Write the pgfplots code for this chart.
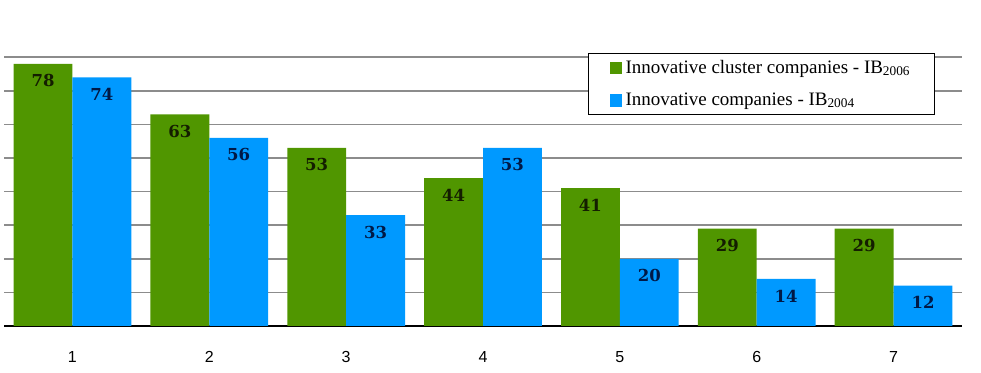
\documentclass[border=0pt]{standalone}
\usepackage{fontspec}
\setmainfont{Liberation Serif}
\newfontfamily\arialf{Liberation Sans}
\newfontfamily\labf{DejaVu Serif}
\usepackage{pgfplots}
\pgfplotsset{compat=1.18}
\definecolor{cgreen}{RGB}{80,150,0}
\definecolor{cblue}{RGB}{0,153,255}
\definecolor{cgrid}{RGB}{140,140,140}
\begin{document}
\begin{tikzpicture}
\begin{axis}[name=ax, at={(0,0)}, anchor=south west,
  scale only axis, width=479pt, height=163pt,
  xmin=0.5, xmax=7.5, ymin=0, ymax=97,
  ybar=0pt, bar width=0.43,
  axis lines*=left,
  y axis line style={draw=none},
  x axis line style={black, line width=0.8pt},
  ytick={10,20,...,80}, yticklabels={}, ytick style={draw=none},
  ymajorgrids, major grid style={cgrid, line width=0.8pt},
  xtick={1,...,7}, xticklabels={1,2,3,4,5,6,7}, xtick style={draw=none},
  xticklabel style={font=\arialf\fontsize{8}{9}\selectfont, yshift=-5pt},
  extra x ticks={0.5,1.5,2.5,3.5,4.5,5.5,6.5,7.5}, extra x tick labels={},
  extra x tick style={tick align=outside, major tick length=3pt, tick style={draw=black, line width=0.8pt}},
  legend style={at={(rel axis cs:0.6095,0.837)}, anchor=north west, draw=black, line width=0.6pt, fill=white,
    font=\fontsize{9.5}{11}\selectfont, inner xsep=10.5pt, inner ysep=1.5pt, row sep=5pt,
    nodes={inner sep=1.6pt}},
  legend cell align=left,
  nodes near coords={\labf\bfseries\pgfmathprintnumber[assume math mode=true]{\pgfplotspointmeta}},
]
\addplot[fill=cgreen, draw=none, bar shift=-0.215,
  legend image code/.code={\fill[cgreen] (0pt,-3.2pt) rectangle (6.4pt,3.2pt);},
  every node near coord/.append style={anchor=center, yshift=-8.5pt, font=\fontsize{8.25}{9}\selectfont, text={rgb,255:red,20;green,30;blue,0}}]
  coordinates {(1,78) (2,63) (3,53) (4,44) (5,41) (6,29) (7,29)};
\addlegendentry{Innovative cluster companies - IB\textsubscript{2006}}
\addplot[fill=cblue, draw=none, bar shift=0.215,
  legend image code/.code={\fill[cblue] (0pt,-3.2pt) rectangle (6.4pt,3.2pt);},
  every node near coord/.append style={anchor=center, yshift=-8.5pt, font=\fontsize{8.25}{9}\selectfont, text={rgb,255:red,0;green,25;blue,70}}]
  coordinates {(1,74) (2,56) (3,33) (4,53) (5,20) (6,14) (7,12)};
\addlegendentry{Innovative companies - IB\textsubscript{2004}}
\end{axis}
\pgfresetboundingbox
\path[use as bounding box] ([shift={(-2pt,-23.5pt)}]ax.south west) rectangle ([shift={(9.5pt,0pt)}]ax.north east);
\end{tikzpicture}
\end{document}
